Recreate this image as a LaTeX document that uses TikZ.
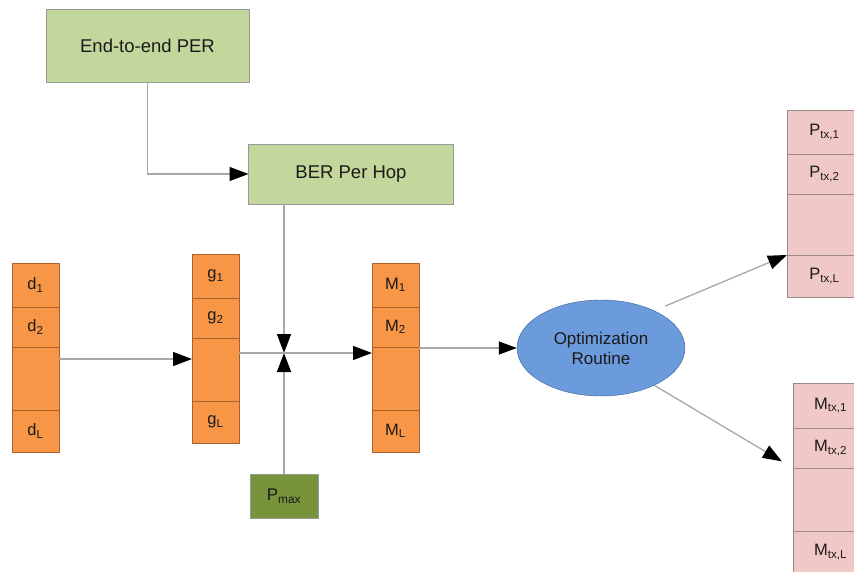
\documentclass[tikz,border=0pt]{standalone}
\usepackage{fontspec}
\setmainfont{Liberation Sans}
\usepackage{tikz}
\usetikzlibrary{positioning, arrows.meta, shapes.geometric, calc}

\definecolor{cellorange}{HTML}{F79646}
\definecolor{orangeline}{HTML}{A9612C}
\definecolor{boxgreen}{HTML}{C3D69B}
\definecolor{darkgreen}{HTML}{77933C}
\definecolor{cellpink}{HTML}{F0C9C7}
\definecolor{pinkline}{HTML}{9C8A8A}
\definecolor{optblue}{HTML}{6B9BDC}
\definecolor{optline}{HTML}{3E5F94}
\definecolor{connline}{HTML}{A8A8A8}
\definecolor{labeltext}{HTML}{1A1A1A}

\begin{document}
\begin{tikzpicture}[
  x=1pt, y=-1pt,
  box/.style={draw=black!40, fill=boxgreen, rectangle, inner sep=0pt, outer sep=0pt, align=center, text=labeltext, font=\fontsize{18.5}{21}\selectfont},
  cell/.style={draw=orangeline, fill=cellorange, rectangle, minimum width=47pt, inner sep=0pt, outer sep=0pt, text=labeltext, font=\fontsize{16.5}{19}\selectfont},
  outcell/.style={cell, draw=pinkline, fill=cellpink, minimum width=75pt},
  firstrow/.style={minimum height=44pt},
  secondrow/.style={minimum height=40pt},
  gaprow/.style={minimum height=63pt},
  lastrow/.style={minimum height=42pt},
  arrow/.style={draw=connline, line width=1.3pt, -{Triangle[length=19pt, width=14pt, color=black]}}
]
  \useasboundingbox (0,0) rectangle (854,571);

  % input stack of hop distances
  \node[cell, firstrow] (d1) at (35.5,285) {d\textsubscript{1}};
  \node[cell, secondrow, below=0pt of d1] (d2) {d\textsubscript{2}};
  \node[cell, gaprow, below=0pt of d2] (de) {};
  \node[cell, lastrow, below=0pt of de] (dl) {d\textsubscript{L}};

  \node[cell, firstrow] (g1) at (215.5,276) {g\textsubscript{1}};
  \node[cell, secondrow, below=0pt of g1] (g2) {g\textsubscript{2}};
  \node[cell, gaprow, below=0pt of g2] (ge) {};
  \node[cell, lastrow, below=0pt of ge] (gl) {g\textsubscript{L}};

  \node[cell, firstrow] (m1) at (395.5,285) {M\textsubscript{1}};
  \node[cell, secondrow, below=0pt of m1] (m2) {M\textsubscript{2}};
  \node[cell, gaprow, below=0pt of m2] (me) {};
  \node[cell, lastrow, below=0pt of me] (ml) {M\textsubscript{L}};

  % requirement boxes
  \node[box, minimum width=203pt, minimum height=73pt] (per) at (147.5,45.5) {End-to-end PER};
  \node[box, minimum width=205pt, minimum height=60pt] (ber) at (351,174) {BER Per Hop};
  \node[box, fill=darkgreen, minimum width=68pt, minimum height=44pt, font=\fontsize{17}{20}\selectfont] (pmax) at (284,496) {P\textsubscript{max}};

  \node[ellipse, draw=optline, fill=optblue, minimum width=168pt, minimum height=96pt, inner sep=0pt, align=center, text=labeltext, font=\fontsize{17}{20}\selectfont] (opt) at (601,348) {Optimization\\Routine};

  % outputs
  \node[outcell, firstrow] (ptx1) at (824.5,132) {P\textsubscript{tx,1}};
  \node[outcell, secondrow, below=0pt of ptx1] (ptx2) {P\textsubscript{tx,2}};
  \node[outcell, gaprow, minimum height=61pt, below=0pt of ptx2] (ptxe) {};
  \node[outcell, lastrow, below=0pt of ptxe] (ptxl) {P\textsubscript{tx,L}};

  \node[outcell, firstrow, minimum height=45pt] (mtx1) at (830.5,405.5) {M\textsubscript{tx,1}};
  \node[outcell, secondrow, below=0pt of mtx1] (mtx2) {M\textsubscript{tx,2}};
  \node[outcell, gaprow, below=0pt of mtx2] (mtxe) {};
  \node[outcell, lastrow, below=0pt of mtxe] (mtxl) {M\textsubscript{tx,L}};

  \coordinate (junc) at (284,353);
  \coordinate (dout) at ($(de.north east)+(0,12)$);

  \draw[arrow] (per.south) |- (ber.west);
  \draw[arrow] (ber.south -| junc) -- (junc);
  \draw[arrow] (pmax.north) -- (junc);
  \draw[arrow] (dout) -- (dout -| ge.west);
  \draw[arrow] (ge.east |- junc) -- (me.west |- junc);
  \draw[arrow, -{Triangle[length=18pt, width=13pt, color=black]}] (me.east |- opt) -- (opt.west);
  \draw[arrow, shorten <=12pt] (opt.35) -- (ptxl.north west);
  \draw[arrow, shorten >=13pt] (opt.-35) -- (mtxe.north west);
\end{tikzpicture}
\end{document}
